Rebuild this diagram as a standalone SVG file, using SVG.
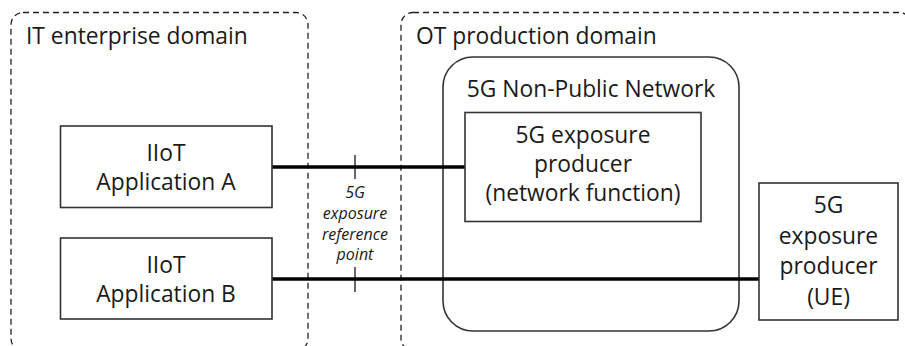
<svg xmlns="http://www.w3.org/2000/svg" width="905" height="346" viewBox="0 0 905 346">
  <style>
    .domain { fill: none; stroke: #222; stroke-width: 1.3; stroke-dasharray: 6 4; }
    .box { fill: #fff; stroke: #333; stroke-width: 1.6; }
    .npn { fill: none; stroke: #333; stroke-width: 1.6; }
    .t { font-family: "Open Sans", "Liberation Sans", sans-serif; font-size: 22.8px; fill: #1a1a1a; }
    .c { text-anchor: middle; }
    .ref { font-family: "Open Sans", "Liberation Sans", sans-serif; font-size: 16px; font-style: italic; fill: #1a1a1a; text-anchor: middle; }
    .link { stroke: #000; stroke-width: 3.5; fill: none; }
    .tick { stroke: #000; stroke-width: 1.2; }
  </style>

  <!-- IT enterprise domain -->
  <g id="it-domain">
    <rect class="domain" x="11" y="12.5" width="297" height="338" rx="12"/>
    <text class="t" x="26" y="44">IT enterprise domain</text>
  </g>

  <!-- OT production domain -->
  <g id="ot-domain">
    <rect class="domain" x="401" y="12.5" width="510" height="338" rx="12"/>
    <text class="t" x="416" y="44">OT production domain</text>
  </g>

  <!-- 5G Non-Public Network -->
  <g id="npn">
    <rect class="npn" x="443" y="57" width="296" height="274" rx="30"/>
    <text class="t c" x="591" y="97">5G Non-Public Network</text>
  </g>

  <!-- connectors -->
  <g id="connectors">
    <line class="link" x1="272" y1="167" x2="465" y2="167"/>
    <line class="link" x1="272" y1="279" x2="759" y2="279"/>
    <line class="tick" x1="355" y1="155" x2="355" y2="179"/>
    <line class="tick" x1="355" y1="267" x2="355" y2="292"/>
    <text class="ref" x="355" y="198">5G</text>
    <text class="ref" x="355" y="219">exposure</text>
    <text class="ref" x="355" y="240">reference</text>
    <text class="ref" x="355" y="260">point</text>
  </g>

  <g id="app-a">
    <rect class="box" x="60.5" y="126" width="211.5" height="81.5"/>
    <text class="t c" x="166" y="161">IIoT</text>
    <text class="t c" x="166" y="190">Application A</text>
  </g>

  <g id="app-b">
    <rect class="box" x="60.5" y="238" width="211.5" height="81"/>
    <text class="t c" x="166" y="273">IIoT</text>
    <text class="t c" x="166" y="302">Application B</text>
  </g>

  <g id="producer-nf">
    <rect class="box" x="465" y="112.5" width="236" height="109"/>
    <text class="t c" x="583" y="143">5G exposure</text>
    <text class="t c" x="583" y="172">producer</text>
    <text class="t c" x="583" y="201">(network function)</text>
  </g>

  <g id="producer-ue">
    <rect class="box" x="759" y="183" width="139" height="137"/>
    <text class="t c" x="828.5" y="213">5G</text>
    <text class="t c" x="828.5" y="243.5">exposure</text>
    <text class="t c" x="828.5" y="274">producer</text>
    <text class="t c" x="828.5" y="304.5">(UE)</text>
  </g>
</svg>
